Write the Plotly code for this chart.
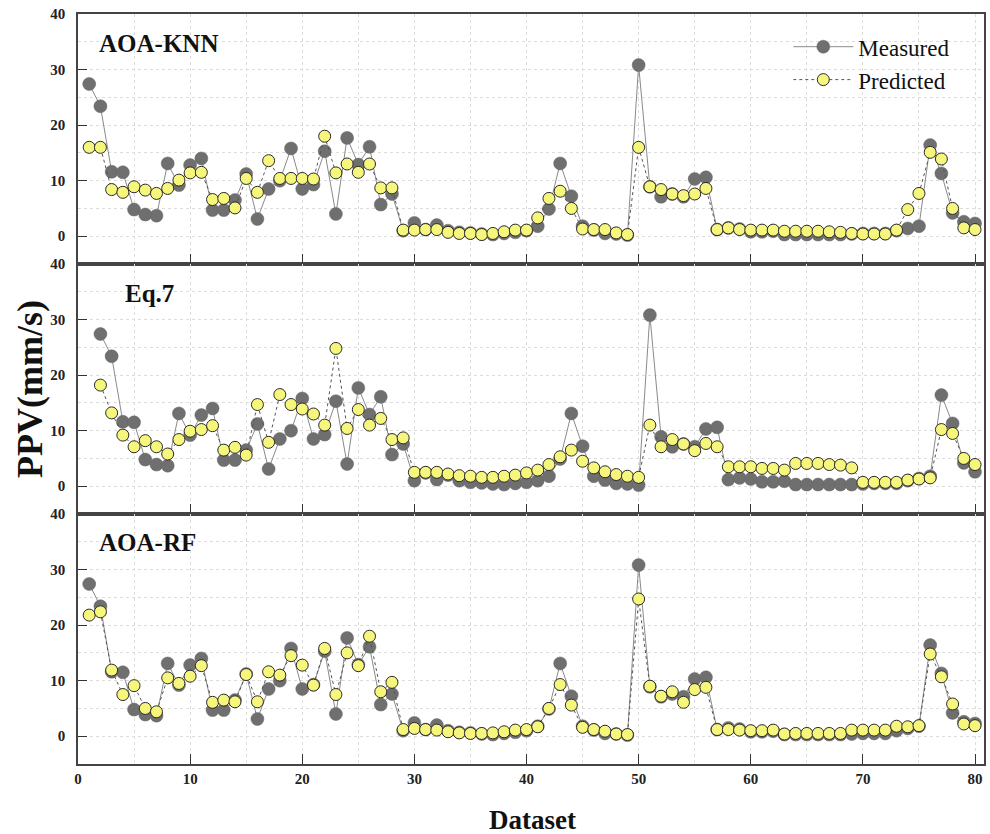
import plotly.graph_objects as go
from plotly.subplots import make_subplots

# ---------------- data ----------------
dataset_idx = list(range(1, 81))
eq7_idx = list(range(2, 81))

measured = [27.4, 23.4, 11.6, 11.5, 4.8, 3.9, 3.7, 13.1, 9.2, 12.8,
            14.0, 4.7, 4.7, 6.5, 11.2, 3.1, 8.5, 10.0, 15.8, 8.5,
            9.3, 15.3, 4.0, 17.7, 12.9, 16.1, 5.7, 7.6, 1.0, 2.4,
            1.2, 2.0, 1.0, 0.7, 0.6, 0.4, 0.3, 0.5, 0.7, 1.0,
            1.8, 4.9, 13.1, 7.2, 1.8, 1.1, 0.5, 0.4, 0.2, 30.8,
            8.9, 7.1, 7.6, 7.1, 10.3, 10.6, 1.2, 1.5, 1.3, 0.8,
            0.8, 0.9, 0.3, 0.3, 0.3, 0.3, 0.3, 0.3, 0.4, 0.5,
            0.5, 0.5, 1.0, 1.4, 1.8, 16.4, 11.3, 4.2, 2.6, 2.3]

knn_pred = [16.0, 16.0, 8.4, 7.9, 8.9, 8.3, 7.7, 8.6, 10.1, 11.4,
            11.5, 6.6, 6.8, 5.1, 10.4, 7.9, 13.6, 10.4, 10.4, 10.4,
            10.3, 18.0, 11.4, 13.0, 11.5, 13.0, 8.7, 8.7, 1.1, 1.1,
            1.2, 1.2, 0.7, 0.5, 0.5, 0.3, 0.5, 0.8, 1.1, 1.1,
            3.3, 6.8, 8.1, 5.0, 1.3, 1.2, 1.2, 0.6, 0.3, 16.0,
            8.9, 8.4, 7.6, 7.3, 7.6, 8.6, 1.2, 1.5, 1.2, 1.1,
            1.1, 1.1, 0.9, 0.9, 0.9, 0.9, 0.8, 0.7, 0.5, 0.4,
            0.4, 0.4, 1.1, 4.8, 7.7, 15.1, 13.9, 5.0, 1.5, 1.2]

eq7_measured = measured[:79]
eq7_pred = [18.2, 13.2, 9.2, 7.1, 8.2, 7.1, 5.8, 8.4, 9.9,
            10.2, 10.9, 6.5, 7.0, 5.6, 14.7, 7.9, 16.5, 14.7, 13.9,
            13.0, 11.0, 24.8, 10.4, 13.8, 11.0, 12.2, 8.4, 8.7, 2.5,
            2.5, 2.5, 2.2, 1.9, 1.8, 1.6, 1.6, 1.8, 2.0, 2.4,
            2.9, 3.9, 5.3, 6.5, 4.5, 3.3, 2.6, 2.1, 1.8, 1.6,
            11.0, 7.1, 8.4, 7.6, 6.4, 7.7, 7.1, 3.5, 3.5, 3.5,
            3.2, 3.2, 2.9, 4.1, 4.1, 4.1, 3.9, 3.8, 3.3, 0.7,
            0.7, 0.7, 0.7, 1.1, 1.3, 1.5, 10.2, 9.5, 5.0, 3.9]

rf_pred = [21.8, 22.4, 11.9, 7.5, 9.1, 5.0, 4.4, 10.5, 9.5, 10.8,
           12.7, 6.1, 6.5, 6.2, 11.1, 6.2, 11.6, 11.0, 14.5, 12.8,
           9.2, 15.8, 7.5, 15.0, 12.7, 18.0, 8.0, 9.7, 1.2, 1.4,
           1.2, 1.1, 0.8, 0.6, 0.5, 0.5, 0.6, 0.8, 1.1, 1.2,
           1.7, 5.0, 9.3, 5.6, 1.6, 1.2, 0.9, 0.4, 0.3, 24.7,
           9.0, 7.2, 8.0, 6.1, 8.4, 8.8, 1.2, 1.2, 1.1, 1.0,
           1.0, 1.1, 0.4, 0.5, 0.5, 0.5, 0.5, 0.5, 1.1, 1.1,
           1.1, 1.1, 1.8, 1.7, 1.9, 14.8, 10.7, 5.8, 2.2, 1.9]

panel_labels = ["AOA-KNN", "Eq.7", "AOA-RF"]
y_ticks = [0, 10, 20, 30, 40]
x_ticks = [0, 10, 20, 30, 40, 50, 60, 70, 80]

# ---------------- styling ----------------
SERIF = "Liberation Serif, Times New Roman, serif"
GREY = "#6f6f6f"
YELLOW = "#f7f67c"
GRID = "#dcdcdc"

fig = make_subplots(rows=3, cols=1, shared_xaxes=False, vertical_spacing=0)

panels = [
    (dataset_idx, measured, dataset_idx, knn_pred),
    (eq7_idx, eq7_measured, eq7_idx, eq7_pred),
    (dataset_idx, measured, dataset_idx, rf_pred),
]

for r, (xm, ym, xp, yp) in enumerate(panels, start=1):
    fig.add_trace(go.Scatter(
        x=xm, y=ym, mode="lines+markers", name="Measured",
        line=dict(color="#8a8a8a", width=1),
        marker=dict(color=GREY, size=13, line=dict(color="#666666", width=0.5)),
        showlegend=(r == 1)), row=r, col=1)
    fig.add_trace(go.Scatter(
        x=xp, y=yp, mode="lines+markers", name="Predicted",
        line=dict(color="#555555", width=1, dash="dot"),
        marker=dict(color=YELLOW, size=12, line=dict(color="#2a2a2a", width=1)),
        showlegend=(r == 1)), row=r, col=1)

for r in range(1, 4):
    fig.update_xaxes(
        range=[0, 80.8], tickvals=x_ticks, ticks="inside", ticklen=10,
        tickcolor="#333333", tickwidth=1.2,
        showticklabels=(r == 3),
        tickfont=dict(family=SERIF, size=15, color="#222222", weight="bold"),
        showline=True, linecolor="#444444", linewidth=1.5, mirror=True,
        showgrid=True, gridcolor=GRID, griddash="dot", gridwidth=1,
        minor=dict(dtick=5, tick0=0, showgrid=True, gridcolor=GRID,
                   griddash="dot", gridwidth=1),
        zeroline=False, row=r, col=1)
    fig.update_yaxes(
        range=[-5, 40], tickvals=y_ticks, ticks="inside", ticklen=9,
        tickcolor="#333333", tickwidth=1.2,
        tickfont=dict(family=SERIF, size=15, color="#222222", weight="bold"),
        ticklabelstandoff=8,
        showline=True, linecolor="#444444", linewidth=1.5, mirror=True,
        showgrid=True, gridcolor=GRID, griddash="dot", gridwidth=1,
        minor=dict(dtick=5, tick0=0, showgrid=True, gridcolor=GRID,
                   griddash="dot", gridwidth=1),
        zeroline=False, row=r, col=1)

ann = []
label_pos = [(0.021, 0.961), (0.0496, 0.628), (0.021, 0.2947)]
for txt, (ax, ay) in zip(panel_labels, label_pos):
    ann.append(dict(text="<b>%s</b>" % txt, x=ax, y=ay, xref="paper", yref="paper",
                    xanchor="left", yanchor="middle", showarrow=False,
                    font=dict(family=SERIF, size=25, color="#111111")))
ann.append(dict(text="<b>PPV(mm/s)</b>", x=-0.053, y=0.5, xref="paper", yref="paper",
                xanchor="center", yanchor="middle", textangle=-90, showarrow=False,
                font=dict(family=SERIF, size=36, color="#111111")))
ann.append(dict(text="<b>Dataset</b>", x=(534 - 78) / 908, y=-(820 - 764) / 750,
                xref="paper", yref="paper", xanchor="center", yanchor="middle",
                showarrow=False, font=dict(family=SERIF, size=27, color="#111111")))

fig.update_layout(
    width=990, height=834,
    margin=dict(l=78, r=4, t=14, b=70),
    paper_bgcolor="white", plot_bgcolor="white",
    annotations=ann,
    legend=dict(x=0.784, y=0.985, xanchor="left", yanchor="top",
                bgcolor="rgba(0,0,0,0)", itemwidth=60,
                font=dict(family=SERIF, size=23, color="#111111"),
                tracegroupgap=0),
)

fig.write_html(
    "out.html",
    config={"displayModeBar": False},
    post_script="document.body.style.margin='0px';document.body.style.overflow='hidden';",
)
